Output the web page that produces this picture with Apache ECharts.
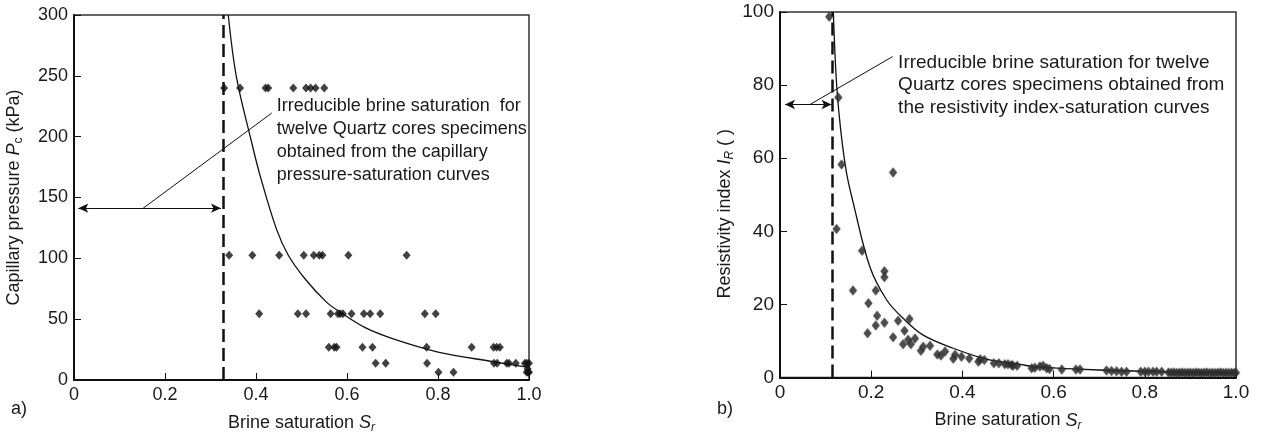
<!DOCTYPE html>
<html>
<head>
<meta charset="utf-8">
<script src="https://cdn.jsdelivr.net/npm/echarts@6/dist/echarts.min.js"></script>
<style>
html,body{margin:0;padding:0;background:#fff;}
#c{width:1262px;height:439px;}
</style>
</head>
<body>
<div id="c"></div>
<script>
// ---------- tick labels ----------
const xTickLabels = ['0', '0.2', '0.4', '0.6', '0.8', '1.0'];
const pcTickLabels = ['0', '50', '100', '150', '200', '250', '300'];
const irTickLabels = ['0', '20', '40', '60', '80', '100'];

// ---------- a) capillary pressure data ----------
const pcSat = [
  0.330, 0.365, 0.421, 0.427, 0.482, 0.510, 0.520, 0.531, 0.550,
  0.341, 0.392, 0.451, 0.505, 0.527, 0.539, 0.546, 0.603, 0.731,
  0.407, 0.492, 0.510, 0.564, 0.580, 0.585, 0.591, 0.610, 0.637, 0.651, 0.673, 0.771, 0.795,
  0.560, 0.572, 0.577, 0.634, 0.656, 0.775, 0.874, 0.922, 0.929, 0.936,
  0.663, 0.685, 0.776, 0.923, 0.930, 0.951, 0.956, 0.971, 0.991, 0.995, 1.000,
  0.801, 0.834, 0.995, 0.998, 1.000, 0.997
];
const pcVal = [
  240, 240, 240, 240, 240, 240, 240, 240, 240,
  102.5, 102.5, 102.5, 102.5, 102.5, 102.5, 102.5, 102.5, 102.5,
  54.5, 54.5, 54.5, 54.5, 54.5, 54.5, 54.5, 54.5, 54.5, 54.5, 54.5, 54.5, 54.5,
  27, 27, 27, 27, 27, 27, 27, 27, 27, 27,
  13.7, 13.7, 13.7, 13.7, 13.7, 13.7, 13.7, 13.7, 13.7, 13.7, 13.7,
  6.3, 6.3, 6.3, 6.3, 6.3, 9.0
];
const pcCurveSat = [0.339, 0.357, 0.389, 0.409, 0.445, 0.471, 0.508, 0.555, 0.588, 0.640, 0.700, 0.800, 0.922, 1.000];
const pcCurveVal = [300, 249, 197.5, 168, 124, 102.5, 83, 64, 55, 43, 34, 23, 15, 10.3];
const pcIrreducible = 0.328;
const pcArrowLevel = 141.2;
const pcArrowFrom = 0.0095;
const pcArrowTo = 0.323;
const pcLeaderFrom = [0.152, 141.2];
const pcLeaderTo = [0.4345, 219.4];
const pcNoteAnchor = [0.4455, 234.3];
const pcNote = ['Irreducible brine saturation  for', 'twelve Quartz cores specimens', 'obtained from the capillary', 'pressure-saturation curves'];

// ---------- b) resistivity index data ----------
const irSat = [
  0.108, 0.128, 0.135, 0.248, 0.124, 0.180, 0.160, 0.229, 0.229, 0.210,
  0.194, 0.213, 0.210, 0.192, 0.229, 0.248, 0.259, 0.284, 0.273, 0.270,
  0.281, 0.287, 0.296, 0.309, 0.314, 0.329, 0.345, 0.353, 0.362, 0.380,
  0.384, 0.398, 0.415, 0.435, 0.439, 0.448, 0.469, 0.480, 0.493, 0.500,
  0.508, 0.511, 0.520, 0.552, 0.559, 0.570, 0.577, 0.585, 0.591, 0.618,
  0.649, 0.658, 0.716, 0.727, 0.738, 0.749, 0.760, 0.791, 0.800, 0.808,
  0.818, 0.826, 0.837, 0.852, 0.858, 0.864, 0.870, 0.876, 0.882, 0.888,
  0.894, 0.900, 0.906, 0.912, 0.918, 0.924, 0.930, 0.936, 0.942, 0.948,
  0.954, 0.960, 0.966, 0.972, 0.978, 0.984, 0.990, 0.996, 1.000
];
const irVal = [
  98.7, 76.6, 58.3, 56.1, 40.6, 34.7, 23.8, 29.1, 27.4, 23.8,
  20.3, 16.9, 14.2, 12.1, 15.0, 11.0, 15.5, 16.0, 12.8, 9.1,
  10.3, 9.1, 10.7, 7.3, 8.4, 8.7, 6.3, 6.0, 7.1, 5.1,
  6.2, 5.7, 5.2, 4.3, 5.0, 4.8, 3.9, 3.9, 3.6, 3.6,
  3.4, 3.2, 3.2, 2.5, 2.7, 3.0, 3.2, 2.5, 2.3, 2.2,
  2.2, 2.2, 1.9, 1.8, 1.7, 1.6, 1.6, 1.6, 1.6, 1.6,
  1.6, 1.6, 1.6, 1.4, 1.3, 1.4, 1.2, 1.3, 1.4, 1.2,
  1.3, 1.3, 1.2, 1.4, 1.3, 1.2, 1.3, 1.4, 1.2, 1.3,
  1.2, 1.3, 1.4, 1.2, 1.3, 1.2, 1.3, 1.2, 1.3
];
const irCurveSat = [0.117, 0.124, 0.134, 0.146, 0.159, 0.197, 0.234, 0.270, 0.314, 0.380, 0.453, 0.526, 0.555, 0.700, 1.000];
const irCurveVal = [100, 80.5, 66.8, 55.9, 48.6, 30.3, 21.2, 16.2, 11.6, 8.0, 5.0, 3.6, 3.0, 2.05, 1.2];
const irIrreducible = 0.1156;
const irArrowLevel = 74.7;
const irArrowFrom = 0.011;
const irArrowTo = 0.113;
const irLeaderFrom = [0.0658, 74.7];
const irLeaderTo = [0.247, 87.8];
const irNoteAnchor = [0.259, 89.3];
const irNote = ['Irreducible brine saturation for twelve', 'Quartz cores specimens obtained from', 'the resistivity index-saturation curves'];

// ---------- build ----------
const FONT = '"Liberation Sans", Arial, Helvetica, sans-serif';
const TXT = '#1a1a1a';
const zip = (a, b) => a.map((v, i) => [v, b[i]]);

function xAxisFor(grid, tickSize) {
  return {
    gridIndex: grid, type: 'value', min: 0, max: 1, interval: 0.2,
    name: 'Brine saturation {i|S}{si|r}', nameLocation: 'middle', nameGap: 32,
    nameTextStyle: {
      color: TXT, fontFamily: FONT, fontSize: 18,
      rich: {
        i: {fontStyle: 'italic', fontFamily: FONT, fontSize: 18, color: TXT},
        si: {fontStyle: 'italic', fontFamily: FONT, fontSize: 12, color: TXT, padding: [10, 0, 0, 0]}
      }
    },
    axisLine: {lineStyle: {color: '#111', width: 2}},
    axisTick: {inside: true, length: 7, lineStyle: {color: '#111', width: 1}},
    splitLine: {show: false},
    axisLabel: {
      color: TXT, fontFamily: FONT, fontSize: tickSize, margin: 6,
      formatter: v => xTickLabels[Math.round(v / 0.2)]
    }
  };
}

const option = {
  animation: false,
  backgroundColor: '#fff',
  grid: [
    {left: 74, top: 15, width: 455, height: 366, show: true, borderColor: '#333', borderWidth: 1.5},
    {left: 780, top: 12, width: 456, height: 365.5, show: true, borderColor: '#333', borderWidth: 1.5}
  ],
  xAxis: [xAxisFor(0, 18), xAxisFor(1, 19)],
  yAxis: [
    {
      gridIndex: 0, type: 'value', min: 0, max: 300, interval: 50,
      name: 'Capillary pressure {i|P}{s|c} (kPa)', nameLocation: 'middle', nameGap: 49,
      nameTextStyle: {
        color: TXT, fontFamily: FONT, fontSize: 18,
        rich: {
          i: {fontStyle: 'italic', fontFamily: FONT, fontSize: 18, color: TXT},
          s: {fontFamily: FONT, fontSize: 12, color: TXT, padding: [10, 0, 0, 0]}
        }
      },
      axisLine: {show: true, lineStyle: {color: '#111', width: 2}},
      axisTick: {show: true, inside: true, length: 7, lineStyle: {color: '#111', width: 1}},
      splitLine: {show: false},
      axisLabel: {color: TXT, fontFamily: FONT, fontSize: 18, margin: 6,
        formatter: v => pcTickLabels[Math.round(v / 50)]}
    },
    {
      gridIndex: 1, type: 'value', min: 0, max: 100, interval: 20,
      name: 'Resistivity index {i|I}{si|R} ( )', nameLocation: 'middle', nameGap: 44,
      nameTextStyle: {
        color: TXT, fontFamily: FONT, fontSize: 18, padding: [0, 38, 0, 0],
        rich: {
          i: {fontStyle: 'italic', fontFamily: FONT, fontSize: 18, color: TXT},
          si: {fontStyle: 'italic', fontFamily: FONT, fontSize: 12, color: TXT, padding: [10, 0, 0, 0]}
        }
      },
      axisLine: {show: true, lineStyle: {color: '#111', width: 2}},
      axisTick: {show: true, inside: true, length: 7, lineStyle: {color: '#111', width: 1}},
      splitLine: {show: false},
      axisLabel: {color: TXT, fontFamily: FONT, fontSize: 19, margin: 6,
        formatter: v => irTickLabels[Math.round(v / 20)]}
    }
  ],
  series: [
    {
      type: 'scatter', xAxisIndex: 0, yAxisIndex: 0,
      data: zip(pcSat, pcVal), symbol: 'diamond', symbolSize: [8, 9],
      itemStyle: {color: '#111'}, z: 5,
      markLine: {
        silent: true, symbol: ['none', 'none'], label: {show: false},
        data: [
          [{coord: [pcIrreducible, 0], lineStyle: {type: [13, 6], width: 2.5, color: '#111'}},
           {coord: [pcIrreducible, 300]}],
          [{coord: [pcArrowFrom, pcArrowLevel], symbol: 'arrow', symbolSize: [7, 10], lineStyle: {type: 'solid', width: 1.2, color: '#111'}},
           {coord: [pcArrowTo, pcArrowLevel], symbol: 'arrow', symbolSize: [7, 10]}],
          [{coord: pcLeaderFrom, lineStyle: {type: 'solid', width: 1, color: '#111'}},
           {coord: pcLeaderTo}]
        ]
      }
    },
    {
      type: 'line', xAxisIndex: 0, yAxisIndex: 0,
      data: zip(pcCurveSat, pcCurveVal), smooth: 0.35,
      showSymbol: false, symbol: 'none', clip: true,
      lineStyle: {color: '#111', width: 1.3}, z: 4
    },
    {
      type: 'scatter', xAxisIndex: 1, yAxisIndex: 1,
      data: zip(irSat, irVal), symbol: 'diamond', symbolSize: [8, 10],
      itemStyle: {color: '#333', shadowBlur: 2, shadowColor: 'rgba(0,0,0,0.4)'}, z: 5,
      markLine: {
        silent: true, symbol: ['none', 'none'], label: {show: false},
        data: [
          [{coord: [irIrreducible, 0], lineStyle: {type: [13, 6], width: 2.5, color: '#111'}},
           {coord: [irIrreducible, 100]}],
          [{coord: [irArrowFrom, irArrowLevel], symbol: 'arrow', symbolSize: [7, 10], lineStyle: {type: 'solid', width: 1.2, color: '#111'}},
           {coord: [irArrowTo, irArrowLevel], symbol: 'arrow', symbolSize: [7, 10]}],
          [{coord: irLeaderFrom, lineStyle: {type: 'solid', width: 1, color: '#111'}},
           {coord: irLeaderTo}]
        ]
      }
    },
    {
      type: 'line', xAxisIndex: 1, yAxisIndex: 1,
      data: zip(irCurveSat, irCurveVal), smooth: 0.35,
      showSymbol: false, symbol: 'none', clip: true,
      lineStyle: {color: '#111', width: 1.3}, z: 4
    }
  ]
};

const chart = echarts.init(document.getElementById('c'), null, {renderer: 'canvas'});
chart.setOption(option);

const pA = chart.convertToPixel({gridIndex: 0}, pcNoteAnchor);
const pB = chart.convertToPixel({gridIndex: 1}, irNoteAnchor);
chart.setOption({
  graphic: [
    {type: 'text', x: pA[0], y: pA[1], style: {text: pcNote.join('\n'), font: '18px ' + FONT, lineHeight: 23, fill: TXT}},
    {type: 'text', x: pB[0], y: pB[1], style: {text: irNote.join('\n'), font: '19px ' + FONT, lineHeight: 22.5, fill: TXT}},
    {type: 'text', x: 11, y: 400, style: {text: 'a)', font: '18px ' + FONT, fill: TXT}},
    {type: 'text', x: 717, y: 400, style: {text: 'b)', font: '18px ' + FONT, fill: TXT}}
  ]
});
</script>
</body>
</html>
